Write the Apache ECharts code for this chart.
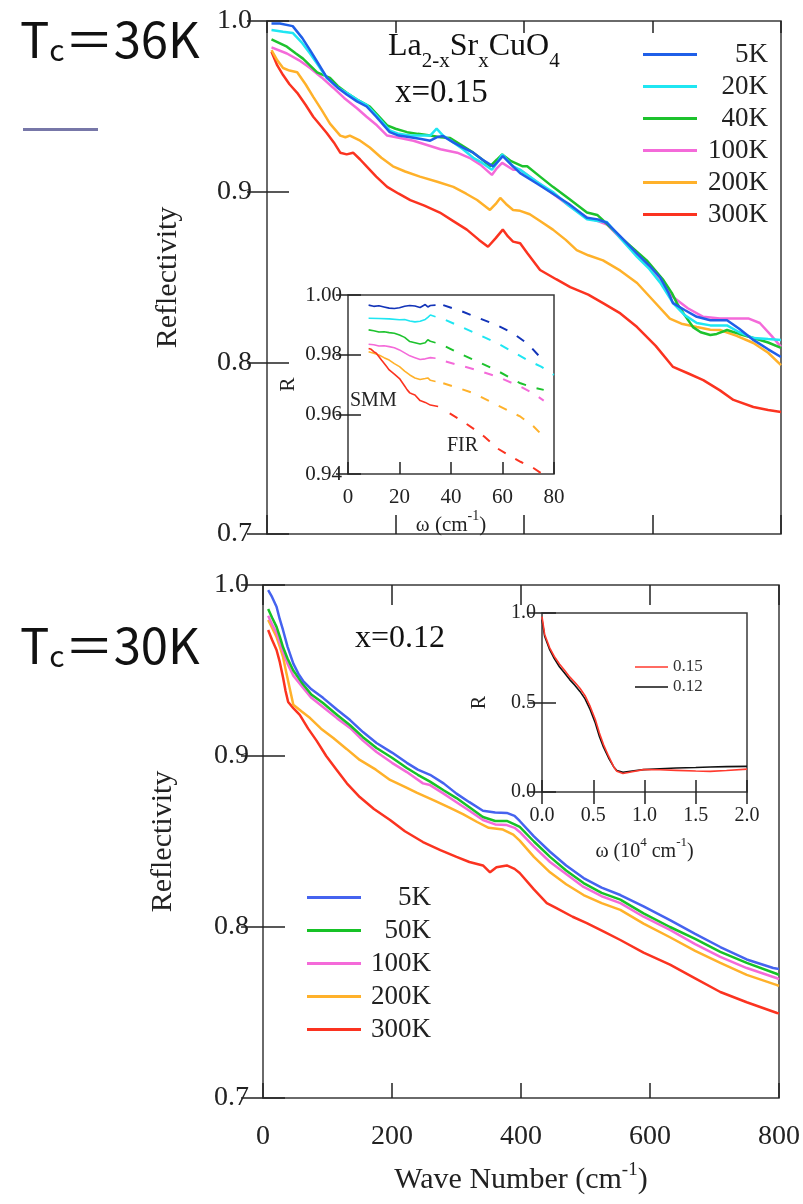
<!DOCTYPE html>
<html>
<head>
<meta charset="utf-8">
<script src="https://cdn.jsdelivr.net/npm/echarts@6/dist/echarts.min.js"></script>
<style>html,body{margin:0;padding:0;background:#fff}#c{width:803px;height:1204px}</style>
</head>
<body>
<div id="c"></div>
<script>
// ---------- DATA ----------
var topNames = ['5K', '20K', '40K', '100K', '200K', '300K'];
var botNames = ['5K', '50K', '100K', '200K', '300K'];
var insetNames = ['0.15', '0.12'];

var top5K = [[7,0.9986],[20,0.9985],[40,0.997],[55,0.990],[67,0.983],[80,0.975],[93,0.967],[110,0.961],[124,0.957],[140,0.953],[155,0.950],[170,0.944],[191,0.935],[205,0.933],[223,0.932],[240,0.931],[254,0.930],[264,0.932],[274,0.9327],[290,0.929],[305,0.926],[321,0.923],[335,0.919],[352,0.915],[360,0.918],[367,0.921],[380,0.916],[394,0.911],[420,0.905],[445,0.899],[470,0.893],[498,0.885],[515,0.884],[529,0.882],[550,0.874],[576,0.864],[595,0.857],[612,0.850],[625,0.841],[632,0.835],[650,0.831],[669,0.827],[690,0.825],[716,0.825],[735,0.820],[757,0.8135],[780,0.808],[800,0.8035]];
var top20K = [[7,0.9947],[25,0.9937],[40,0.993],[55,0.987],[67,0.981],[80,0.974],[93,0.9667],[110,0.961],[124,0.958],[140,0.954],[155,0.951],[170,0.945],[191,0.936],[205,0.934],[223,0.933],[240,0.933],[254,0.933],[264,0.937],[274,0.933],[290,0.929],[305,0.925],[321,0.920],[335,0.917],[350,0.913],[358,0.917],[366,0.922],[383,0.915],[394,0.913],[420,0.906],[445,0.900],[470,0.892],[498,0.884],[515,0.883],[529,0.8825],[550,0.873],[576,0.862],[595,0.855],[612,0.847],[632,0.835],[650,0.828],[669,0.8234],[690,0.822],[716,0.822],[735,0.818],[757,0.8146],[780,0.814],[800,0.8135]];
var top40K = [[7,0.9893],[31,0.985],[45,0.981],[56,0.978],[78,0.970],[98,0.9667],[110,0.962],[124,0.958],[140,0.954],[160,0.950],[187,0.939],[200,0.937],[218,0.935],[235,0.934],[254,0.933],[270,0.932],[285,0.9316],[300,0.928],[321,0.923],[335,0.919],[347,0.915],[358,0.919],[366,0.922],[380,0.918],[398,0.915],[405,0.915],[425,0.909],[445,0.903],[470,0.896],[498,0.888],[514,0.8866],[530,0.881],[549,0.874],[570,0.867],[591,0.860],[617,0.8485],[630,0.841],[638,0.835],[650,0.828],[663,0.821],[675,0.818],[690,0.8164],[700,0.817],[716,0.8193],[735,0.817],[757,0.8146],[780,0.812],[800,0.8088]];
var top100K = [[7,0.9846],[31,0.981],[50,0.977],[67,0.9725],[85,0.967],[103,0.961],[120,0.955],[140,0.949],[155,0.944],[171,0.939],[187,0.933],[207,0.9316],[228,0.930],[249,0.9275],[270,0.925],[296,0.923],[315,0.920],[332,0.916],[350,0.910],[358,0.914],[366,0.917],[383,0.913],[394,0.913],[420,0.906],[445,0.899],[470,0.892],[498,0.885],[515,0.883],[529,0.881],[550,0.873],[576,0.863],[601,0.854],[615,0.847],[632,0.8386],[655,0.832],[679,0.827],[705,0.826],[732,0.826],[750,0.826],[767,0.8234],[785,0.816],[800,0.8094]];
var top200K = [[7,0.983],[16,0.977],[25,0.9725],[35,0.971],[47,0.970],[60,0.963],[72,0.9556],[85,0.948],[98,0.940],[114,0.933],[122,0.932],[129,0.933],[145,0.930],[160,0.926],[178,0.920],[196,0.915],[215,0.912],[238,0.909],[265,0.906],[290,0.903],[310,0.899],[327,0.8953],[347,0.8895],[356,0.893],[363,0.8965],[372,0.893],[383,0.8895],[394,0.889],[409,0.887],[425,0.883],[445,0.878],[465,0.872],[482,0.866],[500,0.863],[523,0.860],[550,0.854],[576,0.8468],[600,0.837],[627,0.826],[645,0.823],[669,0.821],[690,0.8195],[705,0.8193],[730,0.816],[757,0.8117],[780,0.806],[800,0.7988]];
var top300K = [[7,0.982],[16,0.974],[25,0.9684],[35,0.963],[47,0.958],[60,0.951],[72,0.944],[83,0.939],[93,0.9345],[104,0.929],[114,0.923],[124,0.922],[134,0.923],[145,0.919],[155,0.915],[170,0.909],[187,0.903],[205,0.899],[223,0.8953],[245,0.892],[269,0.888],[290,0.883],[311,0.878],[330,0.872],[344,0.868],[356,0.873],[367,0.878],[375,0.874],[383,0.871],[394,0.870],[405,0.8643],[425,0.8544],[450,0.849],[472,0.8444],[500,0.840],[523,0.835],[550,0.829],[576,0.821],[605,0.810],[632,0.7977],[655,0.794],[679,0.790],[705,0.784],[726,0.7784],[757,0.7743],[780,0.7725],[800,0.7713]];

// inset (top): SMM solid + FIR dashed
var smm5K = [[8,0.9966],[10,0.9962],[12,0.9964],[14,0.996],[16,0.9956],[18,0.9955],[20,0.9957],[22,0.9962],[24,0.9965],[26,0.9963],[28,0.9958],[29,0.9963],[30,0.9968],[31,0.996],[32,0.9965],[34,0.9966]];
var fir5K = [[37,0.9966],[44,0.9946],[51,0.9922],[58,0.9898],[64,0.9872],[70,0.9835],[75,0.9788]];
var smm20K = [[8,0.9922],[12,0.9921],[16,0.992],[20,0.9917],[22,0.9918],[24,0.9913],[26,0.991],[28,0.9912],[30,0.9918],[31,0.9925],[32,0.9933],[34,0.9927]];
var fir20K = [[38,0.9916],[44,0.9893],[51,0.9866],[58,0.9838],[64,0.981],[70,0.978],[75,0.976],[80,0.9732]];
var smm40K = [[8,0.9883],[10,0.988],[12,0.9876],[14,0.9877],[16,0.9874],[18,0.9872],[20,0.9866],[22,0.9858],[24,0.9844],[26,0.984],[28,0.9836],[30,0.984],[31,0.985],[32,0.9845],[34,0.984]];
var fir40K = [[38,0.9827],[43,0.9805],[49,0.9782],[58,0.9746],[67,0.9704],[72,0.969],[76,0.9682]];
var smm100K = [[8,0.9835],[10,0.9833],[12,0.9829],[14,0.983],[16,0.9827],[18,0.9823],[20,0.9816],[22,0.9806],[24,0.9796],[26,0.979],[28,0.9784],[30,0.9786],[32,0.979],[34,0.9788]];
var fir100K = [[38,0.9777],[43,0.9765],[49,0.9751],[58,0.9726],[67,0.9693],[72,0.967],[76,0.9646]];
var smm200K = [[8,0.981],[10,0.9805],[12,0.9799],[14,0.979],[16,0.9782],[18,0.977],[20,0.976],[22,0.9745],[24,0.9732],[26,0.9722],[28,0.9717],[30,0.972],[31,0.9722],[32,0.9714],[34,0.971]];
var fir200K = [[37,0.9704],[43,0.9688],[49,0.967],[58,0.9631],[67,0.9592],[72,0.956],[76,0.9525]];
var smm300K = [[8,0.9821],[9,0.9818],[10,0.981],[11,0.9805],[13,0.9782],[15,0.976],[16,0.9749],[18,0.9735],[20,0.972],[22,0.9695],[23,0.9682],[24,0.9672],[25,0.9668],[26,0.9665],[28,0.9646],[30,0.964],[32,0.9631],[34,0.9628],[35,0.9626]];
var fir300K = [[39.5,0.9603],[44,0.958],[49,0.955],[53,0.9525],[58,0.9486],[62,0.9465],[67,0.9441],[72,0.942],[76,0.9397]];

// bottom panel
var bot5K = [[8,0.997],[14,0.993],[21,0.9873],[26,0.980],[31,0.9737],[38,0.964],[47,0.954],[55,0.948],[62,0.944],[75,0.939],[93,0.934],[115,0.927],[135,0.921],[155,0.914],[176,0.9076],[200,0.902],[223,0.896],[240,0.892],[259,0.889],[280,0.884],[300,0.878],[320,0.873],[341,0.868],[360,0.867],[378,0.8667],[390,0.865],[398,0.862],[420,0.853],[445,0.844],[470,0.836],[497,0.8286],[525,0.823],[554,0.8187],[590,0.812],[631,0.804],[670,0.796],[709,0.7883],[750,0.781],[791,0.776],[800,0.7755]];
var bot50K = [[8,0.986],[14,0.981],[21,0.9755],[26,0.970],[31,0.9637],[38,0.957],[47,0.950],[62,0.942],[75,0.936],[93,0.931],[115,0.924],[135,0.918],[155,0.911],[176,0.9047],[200,0.899],[223,0.893],[240,0.889],[259,0.885],[280,0.880],[300,0.8754],[320,0.870],[341,0.8643],[360,0.862],[378,0.862],[390,0.860],[398,0.8585],[420,0.850],[445,0.841],[470,0.833],[497,0.8257],[525,0.820],[554,0.816],[590,0.808],[631,0.800],[670,0.793],[709,0.7854],[750,0.779],[797,0.7725],[800,0.772]];
var bot100K = [[8,0.982],[14,0.977],[21,0.972],[31,0.961],[38,0.954],[47,0.947],[62,0.940],[75,0.934],[93,0.9287],[115,0.922],[135,0.9164],[155,0.909],[176,0.9023],[200,0.896],[223,0.8906],[248,0.884],[259,0.883],[280,0.878],[300,0.873],[320,0.868],[341,0.8626],[360,0.860],[378,0.8596],[390,0.858],[398,0.8556],[420,0.847],[445,0.838],[470,0.831],[497,0.8234],[525,0.818],[554,0.814],[590,0.806],[631,0.7983],[670,0.790],[709,0.7825],[750,0.776],[797,0.770],[800,0.7695]];
var bot200K = [[8,0.9795],[14,0.975],[21,0.9696],[26,0.964],[31,0.958],[36,0.949],[42,0.9386],[47,0.930],[60,0.926],[73,0.9222],[90,0.916],[109,0.9105],[130,0.904],[150,0.8977],[175,0.892],[197,0.886],[220,0.882],[239,0.8784],[265,0.874],[290,0.8696],[310,0.866],[332,0.8614],[350,0.858],[372,0.857],[388,0.854],[398,0.8505],[420,0.841],[445,0.832],[470,0.825],[497,0.8187],[525,0.814],[554,0.81],[590,0.802],[631,0.794],[670,0.786],[709,0.779],[750,0.772],[797,0.766],[800,0.7655]];
var bot300K = [[8,0.9737],[14,0.968],[21,0.962],[26,0.955],[31,0.946],[35,0.938],[39,0.9316],[47,0.928],[57,0.924],[70,0.916],[83,0.909],[98,0.900],[114,0.892],[130,0.884],[150,0.876],[172,0.869],[197,0.8626],[220,0.856],[248,0.8497],[275,0.845],[300,0.841],[320,0.838],[341,0.836],[352,0.832],[362,0.835],[378,0.836],[390,0.834],[398,0.8316],[420,0.822],[440,0.814],[455,0.811],[480,0.806],[502,0.8023],[530,0.797],[554,0.7924],[590,0.785],[631,0.778],[670,0.770],[709,0.762],[750,0.756],[797,0.7497],[800,0.7495]];

// bottom inset (omega in 1e4 cm^-1)
var wide015 = [[0,0.98],[0.026,0.88],[0.075,0.805],[0.12,0.757],[0.17,0.715],[0.22,0.68],[0.27,0.643],[0.32,0.613],[0.37,0.58],[0.42,0.538],[0.47,0.478],[0.52,0.405],[0.56,0.33],[0.6,0.265],[0.65,0.20],[0.7,0.14],[0.73,0.116],[0.79,0.103],[0.88,0.113],[0.99,0.125],[1.15,0.124],[1.31,0.121],[1.5,0.117],[1.64,0.115],[1.8,0.12],[2.0,0.128]];
var wide012 = [[0,0.963],[0.026,0.87],[0.075,0.795],[0.12,0.745],[0.17,0.70],[0.22,0.665],[0.27,0.628],[0.32,0.597],[0.37,0.562],[0.42,0.52],[0.47,0.46],[0.52,0.385],[0.56,0.31],[0.6,0.25],[0.65,0.19],[0.7,0.14],[0.73,0.12],[0.79,0.11],[0.88,0.117],[0.99,0.125],[1.15,0.13],[1.31,0.134],[1.5,0.137],[1.64,0.14],[1.8,0.142],[2.0,0.143]];

// ---------- STYLE ----------
var SERIF = 'Liberation Serif';
var colors = { '5K': '#1f5fe8', '20K': '#1fe6f2', '40K': '#1dc22d', '100K': '#f46ad9', '200K': '#ffb12a', '300K': '#fb3320' };
var colorsBot = { '5K': '#4563ef', '50K': '#16c226', '100K': '#f46ad9', '200K': '#ffb12a', '300K': '#fb3320' };
var insetBlue = '#1233b8';

var chart = echarts.init(document.getElementById('c'), null, { renderer: 'canvas' });

function grid(l, t, w, h) {
  return { left: l, top: t, width: w, height: h, show: true, borderColor: '#3a3a3a', borderWidth: 1.5, backgroundColor: '#fff', containLabel: false };
}
function ax(g, pos, min, max, itv, tickLen, label, extra) {
  var a = {
    type: 'value', gridIndex: g, position: pos, min: min, max: max, interval: itv,
    axisLine: { show: false },
    axisTick: { show: tickLen > 0, inside: true, length: tickLen, lineStyle: { color: '#222', width: 1.5 } },
    splitLine: { show: false },
    axisLabel: label ? label : { show: false }
  };
  for (var k in (extra || {})) a[k] = extra[k];
  return a;
}
function lbl(size, dec, margin) {
  return { show: true, fontFamily: SERIF, fontSize: size, color: '#222', margin: margin,
    formatter: function (v) { return (+v).toFixed(dec); } };
}
// subscript: main token centred in line, sub token at line bottom
function subRich(fs, subFs, lineH, fam) {
  return {
    a: { fontFamily: fam, fontSize: fs, lineHeight: fs, verticalAlign: 'middle', fill: '#111', color: '#111' },
    s: { fontFamily: fam, fontSize: subFs, lineHeight: lineH, verticalAlign: 'bottom', fill: '#111', color: '#111' }
  };
}
// superscript: main token centred, sup token at line top
function supRich(fs, supFs, lineH) {
  return {
    a: { fontFamily: SERIF, fontSize: fs, lineHeight: fs, verticalAlign: 'middle', color: '#222' },
    s: { fontFamily: SERIF, fontSize: supFs, lineHeight: lineH, verticalAlign: 'top', color: '#222' }
  };
}

var xAxes = [
  ax(0, 'bottom', 0, 800, 200, 19, null),
  ax(0, 'top', 0, 800, 200, 12, null),
  ax(1, 'bottom', 0, 80, 20, 12, lbl(21, 0, 13), {
    name: '{a|ω (cm}{s|-1}{a|)}', nameLocation: 'middle', nameGap: 25,
    nameTextStyle: { rich: supRich(21, 14, 34) }
  }),
  ax(1, 'top', 0, 80, 20, 0, null),
  ax(2, 'bottom', 0, 800, 200, 15, lbl(28, 0, 25), {
    name: '{a|Wave Number (cm}{s|-1}{a|)}', nameLocation: 'middle', nameGap: 63,
    nameTextStyle: { rich: supRich(30, 19, 38) }
  }),
  ax(2, 'top', 0, 800, 200, 20, null),
  ax(3, 'bottom', 0, 2, 0.5, 12, lbl(20, 1, 14), {
    name: '{a|ω (10}{s|4}{a| cm}{s|-1}{a|)}', nameLocation: 'middle', nameGap: 44,
    nameTextStyle: { rich: supRich(20, 13, 32) }
  }),
  ax(3, 'top', 0, 2, 0.5, 12, null)
];
var yAxes = [
  ax(0, 'left', 0.7, 1.0, 0.1, 22, lbl(28, 1, 15), {
    name: 'Reflectivity', nameLocation: 'middle', nameGap: 84,
    nameTextStyle: { fontFamily: SERIF, fontSize: 30, color: '#222' }
  }),
  ax(0, 'right', 0.7, 1.0, 0.1, 20, null),
  ax(1, 'left', 0.94, 1.0, 0.02, 13, lbl(21, 2, 6), {
    name: 'R', nameLocation: 'middle', nameGap: 49,
    nameTextStyle: { fontFamily: SERIF, fontSize: 21, color: '#222' }
  }),
  ax(1, 'right', 0.94, 1.0, 0.02, 12, null),
  ax(2, 'left', 0.7, 1.0, 0.1, 22, lbl(28, 1, 14), {
    name: 'Reflectivity', nameLocation: 'middle', nameGap: 85,
    nameTextStyle: { fontFamily: SERIF, fontSize: 30, color: '#222' }
  }),
  ax(2, 'right', 0.7, 1.0, 0.1, 22, null),
  ax(3, 'left', 0, 1.0, 0.5, 14, lbl(20, 1, 6), {
    name: 'R', nameLocation: 'middle', nameGap: 52,
    nameTextStyle: { fontFamily: SERIF, fontSize: 20, color: '#222' }
  }),
  ax(3, 'right', 0, 1.0, 0.5, 14, null)
];

function line(name, data, xi, yi, color, width, dash, z) {
  return {
    type: 'line', name: name, data: data, xAxisIndex: xi, yAxisIndex: yi,
    showSymbol: false, symbol: 'none', smooth: false, animation: false, silent: true,
    lineStyle: { color: color, width: width, type: dash || 'solid' },
    itemStyle: { color: color }, z: z || 2
  };
}

var topData = { '5K': top5K, '20K': top20K, '40K': top40K, '100K': top100K, '200K': top200K, '300K': top300K };
var smmData = { '5K': smm5K, '20K': smm20K, '40K': smm40K, '100K': smm100K, '200K': smm200K, '300K': smm300K };
var firData = { '5K': fir5K, '20K': fir20K, '40K': fir40K, '100K': fir100K, '200K': fir200K, '300K': fir300K };
var botData = { '5K': bot5K, '50K': bot50K, '100K': bot100K, '200K': bot200K, '300K': bot300K };

var series = [];
topNames.slice().reverse().forEach(function (n) { series.push(line(n, topData[n], 0, 0, colors[n], 2.5)); });
topNames.forEach(function (n) {
  var c = n === '5K' ? insetBlue : colors[n];
  series.push(line('SMM ' + n, smmData[n], 2, 2, c, 1.6, 'solid', 3));
  series.push(line('FIR ' + n, firData[n], 2, 2, c, 2, [9, 11], 3));
});
botNames.slice().reverse().forEach(function (n) { series.push(line(n, botData[n], 4, 4, colorsBot[n], 2.5)); });
series.push(line('0.12', wide012, 6, 6, '#111111', 1.6, 'solid', 3));
series.push(line('0.15', wide015, 6, 6, '#ff3a2e', 1.6, 'solid', 3));

function legendRich(w, fs, lh) {
  return { r: { width: w, align: 'right', fontFamily: SERIF, fontSize: fs, lineHeight: lh, color: '#222' } };
}

var option = {
  backgroundColor: '#ffffff',
  animation: false,
  grid: [grid(267, 21, 514, 513), grid(348, 295, 206, 179), grid(263, 585, 516, 513), grid(542, 613, 205, 179)],
  xAxis: xAxes,
  yAxis: yAxes,
  legend: [
    {
      orient: 'vertical', left: 643, top: 41, itemWidth: 54, itemHeight: 3, itemGap: 5, icon: 'rect',
      selectedMode: false, padding: 0,
      data: topNames.map(function (n) { return { name: n, itemStyle: { color: colors[n] } }; }),
      formatter: '{r|{name}}', textStyle: { rich: legendRich(66, 27, 24) }
    },
    {
      orient: 'vertical', left: 307, top: 884, itemWidth: 54, itemHeight: 3, itemGap: 6, icon: 'rect',
      selectedMode: false, padding: 0,
      data: botNames.map(function (n) { return { name: n, itemStyle: { color: colorsBot[n] } }; }),
      formatter: '{r|{name}}', textStyle: { rich: legendRich(65, 27, 27) }
    },
    {
      orient: 'vertical', left: 635, top: 658, itemWidth: 33, itemHeight: 1.5, itemGap: 2, icon: 'rect',
      selectedMode: false, padding: 0,
      data: [{ name: '0.15', itemStyle: { color: '#ff3a2e' } }, { name: '0.12', itemStyle: { color: '#111' } }],
      textStyle: { fontFamily: SERIF, fontSize: 17, lineHeight: 18, color: '#333' }
    }
  ],
  graphic: [
    { type: 'text', left: 20, top: 15, style: { text: '{a|T}{s|c}{a|＝36K}', rich: subRich(49, 30, 50, '"Noto Sans CJK JP"') } },
    { type: 'rect', left: 23, top: 128, shape: { width: 75, height: 3 }, style: { fill: '#7777a8' } },
    { type: 'text', left: 20, top: 621, style: { text: '{a|T}{s|c}{a|＝30K}', rich: subRich(49, 30, 50, '"Noto Sans CJK JP"') } },
    { type: 'text', left: 388, top: 31, z: 10, style: { text: '{a|La}{s|2-x}{a|Sr}{s|x}{a|CuO}{s|4}', rich: subRich(32, 21, 49, SERIF) } },
    { type: 'text', left: 395, top: 77, z: 10, style: { text: 'x=0.15', font: '33px "Liberation Serif"', fill: '#111' } },
    { type: 'text', left: 355, top: 623, z: 10, style: { text: 'x=0.12', font: '32px "Liberation Serif"', fill: '#111' } },
    { type: 'text', left: 350, top: 391, z: 10, style: { text: 'SMM', font: '20px "Liberation Serif"', fill: '#222' } },
    { type: 'text', left: 447, top: 436, z: 10, style: { text: 'FIR', font: '20px "Liberation Serif"', fill: '#222' } }
  ],
  series: series
};
chart.setOption(option);
</script>
</body>
</html>
